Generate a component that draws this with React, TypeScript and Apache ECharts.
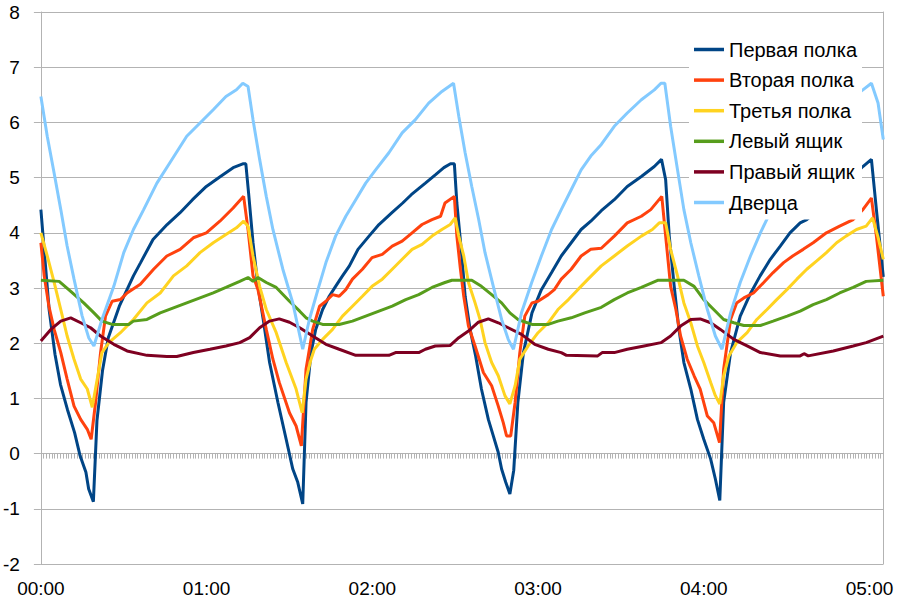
import React, { useEffect, useRef } from "react";
import * as echarts from "echarts";

// Time in minutes from 00:00, value in degrees
const seriesNames = ["Первая полка", "Вторая полка", "Третья полка", "Левый ящик", "Правый ящик", "Дверца"];
const seriesColors = ["#004586", "#ff420e", "#ffd320", "#579d1c", "#7e0021", "#83caff"];

const pervayaPolka: [number, number][] = [
  [0, 4.42], [1.5, 3.5], [3, 2.6], [5.1, 1.8], [7.1, 1.25], [9.6, 0.8], [12.2, 0.38], [14.2, -0.04], [16.3, -0.34], [17.3, -0.64], [19.0, -0.87],
  [20.3, 0.6], [22.3, 1.5], [24.4, 2.1], [28.4, 2.67], [33.5, 3.22], [36.1, 3.46], [40.6, 3.88], [45.7, 4.15], [50.3, 4.36], [54.9, 4.6],
  [59.9, 4.84], [65, 5.02], [69.6, 5.18], [73.1, 5.25], [74.2, 5.25], [75.2, 4.72], [76.8, 3.82], [78.6, 3.03], [80.5, 2.43], [82.8, 1.65],
  [85.8, 0.93], [88.8, 0.26], [91.2, -0.28], [93, -0.52], [94.8, -0.91], [96, 0.93], [97.8, 1.83], [99.5, 2.25], [102, 2.61], [104.4, 2.85],
  [106.7, 3.03], [109.2, 3.22], [111.7, 3.4], [114.8, 3.7], [118.8, 3.94], [122.4, 4.15], [127, 4.36], [131, 4.54], [134.1, 4.69], [139.2, 4.9],
  [142.8, 5.05], [145.9, 5.18], [148.3, 5.25], [149.7, 5.25], [150.6, 4.54], [152.4, 3.58], [153.6, 2.85], [155.4, 2.25], [157.4, 1.77],
  [159.5, 1.17], [162, 0.62], [163.8, 0.32], [165.6, 0.02], [166.8, -0.28], [168.3, -0.52], [169.8, -0.73], [171.2, -0.3], [172.7, 0.93],
  [174.7, 1.83], [177.8, 2.55], [181.2, 2.97], [184.9, 3.28], [188.4, 3.58], [192, 3.82], [195.6, 4.06], [199.1, 4.21], [202.9, 4.4],
  [207.6, 4.6], [212.3, 4.84], [217.4, 5.02], [222.1, 5.2], [224.7, 5.33], [226.2, 4.96], [227.5, 3.94], [229.3, 3.03], [231, 2.25],
  [232.8, 1.65], [235.3, 1.17], [237.7, 0.62], [240, 0.26], [242.5, -0.1], [244.2, -0.46], [245.8, -0.85], [247.2, 0.93], [249.7, 1.83],
  [253.2, 2.49], [257, 2.91], [260.4, 3.22], [264.1, 3.52], [267.7, 3.76], [271.2, 4.0], [274.9, 4.18], [277.3, 4.24], [282.4, 4.45],
  [287.5, 4.7], [292.6, 4.95], [297.6, 5.2], [300.7, 5.33], [302.5, 4.42], [305, 3.2],
];

const vtorayaPolka: [number, number][] = [
  [0, 3.82], [1.2, 3.22], [2.9, 2.67], [4.8, 2.25], [7.2, 1.83], [9.5, 1.35], [12, 0.86], [14.4, 0.62], [16.8, 0.44], [18.2, 0.26],
  [19.8, 0.93], [21.6, 1.83], [23.4, 2.49], [25.8, 2.76], [28.8, 2.79], [31.2, 2.91], [36, 3.07], [40.8, 3.34], [45.6, 3.58], [50.4, 3.7],
  [55.2, 3.91], [59.9, 4.0], [64.8, 4.21], [69.6, 4.45], [73.4, 4.66], [75, 4.06], [76.8, 3.22], [78.6, 2.97], [81.6, 2.25], [84, 1.71],
  [86.3, 1.29], [90, 0.74], [92.4, 0.5], [94.3, 0.14], [96, 1.53], [98.4, 2.25], [100.9, 2.67], [103.2, 2.76], [105.6, 2.88], [108, 2.85],
  [110.4, 2.97], [112.8, 3.16], [116.4, 3.34], [119.9, 3.55], [123.6, 3.61], [127.2, 3.76], [130.8, 3.85], [134.4, 4.0], [138, 4.15],
  [141.6, 4.24], [144.7, 4.3], [146.3, 4.54], [149.7, 4.66], [150.6, 3.94], [151.9, 3.34], [153.1, 2.85], [154.8, 2.31], [157.2, 1.95],
  [160.2, 1.47], [163.2, 1.23], [165.6, 0.86], [167.4, 0.56], [168.6, 0.32], [170.1, 0.32], [171.7, 0.93], [173.4, 1.83], [175.2, 2.49],
  [177.8, 2.73], [180, 2.76], [183.7, 2.88], [185.9, 2.97], [188.4, 3.16], [192, 3.34], [195.6, 3.58], [199.1, 3.7], [202.9, 3.72],
  [207.6, 3.94], [212.3, 4.18], [217.4, 4.3], [220.8, 4.42], [224.8, 4.66], [226.2, 3.94], [228, 3.03], [229.9, 2.61], [231.6, 2.13],
  [234, 1.71], [236.5, 1.41], [238.7, 1.17], [241.3, 0.68], [243.6, 0.56], [245.7, 0.2], [247.2, 1.53], [249.7, 2.43], [251.9, 2.73],
  [254.5, 2.82], [258, 2.91], [261.7, 3.1], [265.1, 3.28], [268.9, 3.46], [272.2, 3.58], [276, 3.7], [279.6, 3.82], [284.4, 4.0],
  [289.2, 4.12], [294.1, 4.24], [297.6, 4.42], [300.7, 4.63], [302.5, 3.94], [305, 2.85],
];

const tretyaPolka: [number, number][] = [
  [0, 4.0], [2.3, 3.58], [4.8, 3.1], [7.2, 2.61], [9.5, 2.13], [12, 1.71], [14.4, 1.35], [16.8, 1.17], [18.6, 0.84], [20.4, 1.35],
  [22.1, 1.83], [24.6, 2.01], [28.8, 2.19], [33.5, 2.43], [38.4, 2.73], [43.2, 2.91], [48, 3.22], [52.8, 3.4], [57.6, 3.64], [62.4, 3.82],
  [67, 3.97], [70.8, 4.09], [73.4, 4.21], [75, 4.12], [76.8, 3.58], [79.2, 3.03], [81.6, 2.61], [85.2, 2.19], [88.8, 1.65], [92.4, 1.17],
  [94.6, 0.74], [96, 1.35], [97.8, 1.71], [99, 1.89], [102, 2.07], [105.6, 2.25], [109.2, 2.49], [112.8, 2.67], [116.4, 2.85], [119.9, 3.03],
  [123.6, 3.16], [127.2, 3.34], [130.8, 3.52], [134.4, 3.7], [138, 3.79], [141.6, 3.94], [145.2, 4.06], [148.2, 4.15], [150, 4.27],
  [151.3, 3.94], [153.1, 3.58], [154.8, 3.1], [157.2, 2.73], [159, 2.43], [160.8, 2.01], [163.2, 1.65], [165.6, 1.41], [168, 1.05],
  [169.8, 0.9], [171.7, 1.23], [173.4, 1.71], [176.4, 1.95], [180, 2.19], [183.7, 2.37], [187.2, 2.61], [191, 2.79], [194.4, 2.97],
  [198.1, 3.16], [202.9, 3.4], [207.6, 3.58], [212.3, 3.76], [217.4, 3.94], [221.4, 4.06], [223.9, 4.18], [226.2, 4.18], [228, 3.7],
  [230.5, 3.22], [232.8, 2.73], [235.3, 2.37], [237.7, 1.95], [240, 1.65], [242.5, 1.29], [244.2, 1.05], [245.8, 0.9], [247.2, 1.41],
  [249.1, 1.77], [251.9, 2.01], [255.7, 2.19], [259.2, 2.43], [262.9, 2.61], [266.4, 2.79], [270.1, 2.97], [273.7, 3.16], [277.3, 3.34],
  [280.9, 3.49], [284.4, 3.64], [288.1, 3.82], [291.5, 3.94], [295.3, 4.06], [298.8, 4.12], [301.1, 4.27], [303, 3.94], [305, 3.52],
];

const levyYashchik: [number, number][] = [
  [0, 3.14], [6.6, 3.12], [10.8, 2.94], [15.5, 2.73], [19.2, 2.55], [22.1, 2.4], [25.8, 2.34], [31.8, 2.34], [33.5, 2.4], [38.4, 2.43],
  [43.2, 2.55], [48, 2.64], [52.8, 2.73], [57.6, 2.82], [62.4, 2.91], [67, 3.01], [72, 3.12], [75, 3.19], [76.8, 3.12], [78.6, 3.19],
  [81.6, 3.1], [85.2, 3.01], [90, 2.76], [93.7, 2.58], [96, 2.46], [98.4, 2.4], [102, 2.34], [108, 2.34], [112.8, 2.4], [117.6, 2.49],
  [122.4, 2.58], [127.2, 2.67], [132.1, 2.79], [136.8, 2.88], [141.6, 3.01], [146.3, 3.1], [148.8, 3.14], [156, 3.14], [159.5, 3.03],
  [163.2, 2.88], [166.8, 2.73], [169.8, 2.55], [172.7, 2.43], [177.8, 2.34], [183.7, 2.34], [187.2, 2.4], [192, 2.46], [196.9, 2.55],
  [202.9, 2.65], [207.6, 2.79], [212.3, 2.91], [217.4, 3.01], [223.3, 3.14], [232.8, 3.14], [236.5, 3.03], [240, 2.79], [243.6, 2.61],
  [247.2, 2.43], [250.9, 2.37], [254.5, 2.32], [260.5, 2.32], [265.1, 2.4], [270.2, 2.49], [274.9, 2.58], [279.6, 2.7], [284.4, 2.79],
  [289.2, 2.91], [294.1, 3.01], [298.8, 3.12], [305, 3.14],
];

const pravyYashchik: [number, number][] = [
  [0, 2.04], [3.6, 2.25], [7.2, 2.4], [10.8, 2.46], [14.4, 2.37], [18, 2.28], [21.6, 2.13], [26.4, 1.98], [31.2, 1.86], [38.4, 1.78],
  [45.6, 1.76], [49.2, 1.76], [55.2, 1.83], [61.2, 1.89], [67, 1.95], [72, 2.01], [75.6, 2.1], [79.2, 2.28], [82.8, 2.4], [86.3, 2.44],
  [90, 2.38], [93.7, 2.28], [98.4, 2.13], [103.2, 1.98], [108, 1.89], [114, 1.78], [126, 1.78], [128.4, 1.83], [136.8, 1.83], [139.2, 1.89],
  [142.8, 1.95], [148.2, 1.96], [151.3, 2.1], [154.8, 2.22], [158.4, 2.38], [162, 2.44], [165.6, 2.37], [169.2, 2.28], [174, 2.16],
  [178.8, 1.98], [183.7, 1.89], [188.4, 1.83], [190.3, 1.78], [201.6, 1.77], [203.2, 1.83], [207.6, 1.83], [212.3, 1.89], [218.4, 1.95],
  [224.5, 2.01], [228, 2.13], [231.6, 2.31], [235.3, 2.43], [238.7, 2.44], [242.5, 2.37], [246, 2.25], [250.9, 2.07], [255.7, 1.95],
  [260.5, 1.83], [267.7, 1.77], [274.9, 1.77], [276.3, 1.81], [277.8, 1.77], [286.9, 1.86], [294.1, 1.95], [298.8, 2.01], [305, 2.13],
];

const dvertsa: [number, number][] = [
  [0, 6.47], [2.3, 5.75], [4.8, 5.08], [7.2, 4.42], [9.5, 3.76], [12, 3.16], [14.9, 2.5], [17.3, 2.1], [19.2, 1.95], [22.1, 2.43],
  [26.4, 3.03], [30, 3.64], [33.5, 4.06], [37.2, 4.42], [42, 4.9], [46.7, 5.27], [52.8, 5.75], [57.6, 5.99], [62.4, 6.23], [67, 6.47],
  [70.8, 6.59], [73.1, 6.71], [75, 6.65], [76.8, 6.05], [79.2, 5.33], [81.6, 4.66], [84, 4.06], [87.6, 3.34], [91.2, 2.73], [94.8, 1.89],
  [97.2, 2.43], [100.3, 2.97], [103.2, 3.46], [106.7, 3.94], [110.4, 4.3], [114, 4.6], [117.6, 4.9], [121.2, 5.14], [126, 5.45],
  [130.8, 5.81], [135.6, 6.05], [140.4, 6.35], [145.2, 6.56], [149.4, 6.71], [151.3, 6.11], [153.6, 5.45], [156, 4.84], [158.5, 4.24],
  [160.8, 3.64], [163.8, 3.03], [166.8, 2.43], [169.2, 2.07], [171.1, 1.89], [174, 2.55], [177.7, 3.1], [181.2, 3.58], [184.9, 4.06],
  [188.4, 4.42], [192, 4.78], [195.6, 5.14], [199.1, 5.39], [202.9, 5.6], [207.6, 5.93], [212.3, 6.17], [217.4, 6.41], [222.1, 6.59],
  [224.5, 6.71], [225.9, 6.71], [228, 5.93], [230.5, 5.14], [232.8, 4.42], [235.3, 3.82], [238.2, 3.22], [241.3, 2.61], [244.2, 2.13],
  [246.6, 1.89], [249.7, 2.55], [253.2, 3.1], [256.9, 3.58], [260.5, 4.0], [262.8, 4.24], [267.2, 4.7], [272.2, 5.15], [277.3, 5.55],
  [282.4, 5.9], [287.5, 6.15], [292.6, 6.4], [297.6, 6.59], [300.7, 6.71], [303.1, 6.35], [305, 5.69],
];

const allSeries = [pervayaPolka, vtorayaPolka, tretyaPolka, levyYashchik, pravyYashchik, dvertsa];

const xMax = 305; // minutes
const hourLabels = ["00:00", "01:00", "02:00", "03:00", "04:00", "05:00"];
const minuteCategories = Array.from({ length: xMax + 1 }, (_, i) => String(i));

const FONT = "'Liberation Sans', Arial, sans-serif";
const GREY = "#b3b3b3";

export default function App() {
  const ref = useRef<HTMLDivElement>(null);
  useEffect(() => {
    if (!ref.current) return;
    const chart = echarts.init(ref.current, undefined, { renderer: "svg" });
    chart.setOption({
      animation: false,
      backgroundColor: "#ffffff",
      textStyle: { fontFamily: FONT },
      grid: { left: 36.7, right: 23.7, top: 12, bottom: 36 },
      legend: {
        data: seriesNames,
        orient: "vertical",
        left: 689,
        top: 31.5,
        padding: [8, 5, 7, 5],
        icon: "rect",
        itemWidth: 30,
        itemHeight: 3.5,
        itemGap: 10.6,
        backgroundColor: "#ffffff",
        textStyle: { fontSize: 20, color: "#000000", fontFamily: FONT, lineHeight: 20 },
      },
      xAxis: [
        {
          type: "value",
          min: 0,
          max: xMax,
          interval: 60,
          position: "bottom",
          axisLine: { show: false, onZero: false },
          axisTick: { show: false },
          splitLine: { show: false },
          axisLabel: {
            fontSize: 19,
            color: "#000000",
            fontFamily: FONT,
            margin: 15,
            showMaxLabel: false,
            formatter: (v: number) => (v % 60 === 0 ? hourLabels[v / 60] ?? "" : ""),
          },
        },
        {
          type: "category",
          data: minuteCategories,
          boundaryGap: false,
          position: "bottom",
          axisLine: { show: true, onZero: true, lineStyle: { color: GREY, width: 1 } },
          axisTick: { show: true, interval: 0, length: 5, lineStyle: { color: GREY, width: 1 } },
          axisLabel: { show: false },
          splitLine: { show: false },
        },
      ],
      yAxis: [
        {
          type: "value",
          min: -2,
          max: 8,
          interval: 1,
          axisLine: { show: true, lineStyle: { color: GREY, width: 1 } },
          axisTick: { show: true, length: 7, lineStyle: { color: GREY, width: 1 } },
          axisLabel: { fontSize: 19, color: "#000000", fontFamily: FONT, margin: 21 },
          splitLine: { show: true, lineStyle: { color: GREY, width: 1 } },
        },
        {
          type: "value",
          position: "right",
          min: -2,
          max: 8,
          interval: 1,
          axisLine: { show: true, lineStyle: { color: GREY, width: 1 } },
          axisTick: { show: false },
          axisLabel: { show: false },
          splitLine: { show: false },
        },
      ],
      series: allSeries.map((data, i) => ({
        name: seriesNames[i],
        type: "line",
        xAxisIndex: 0,
        yAxisIndex: 0,
        data,
        symbol: "none",
        color: seriesColors[i],
        lineStyle: { color: seriesColors[i], width: 3 },
      })),
    });
    return () => chart.dispose();
  }, []);
  return (
    <div
      ref={ref}
      style={{ position: "fixed", left: 0, top: 0, width: 907, height: 600, background: "#fff" }}
    />
  );
}
